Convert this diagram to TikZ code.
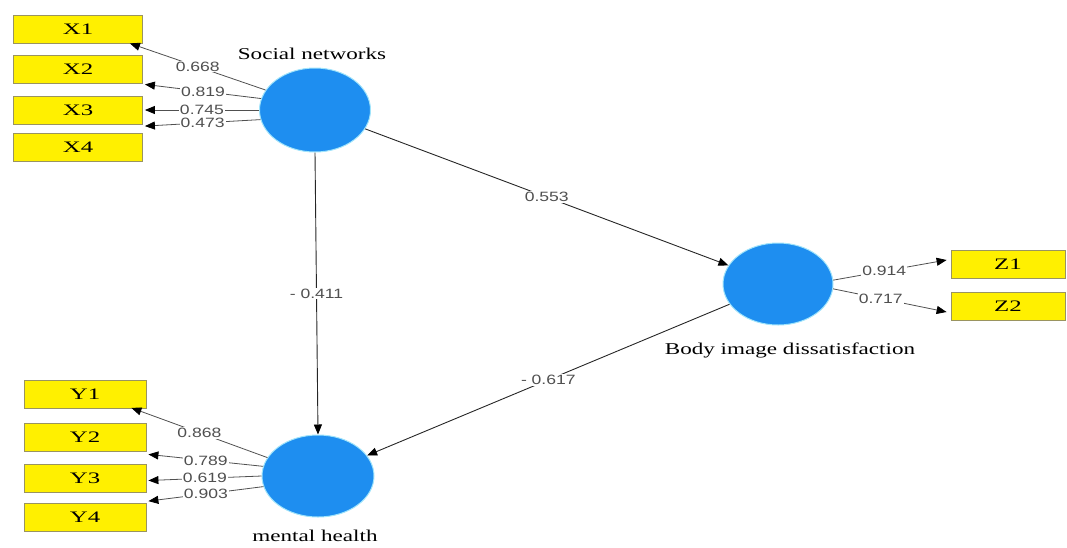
\documentclass[tikz,border=0pt]{standalone}
\usepackage{fontspec}
\usepackage{graphicx}
\setmainfont{Liberation Serif}
\newfontfamily\numfont{Liberation Sans}
\usetikzlibrary{shapes.geometric,arrows.meta}
\definecolor{boxyellow}{HTML}{FFF000}
\definecolor{boxedge}{HTML}{9A9460}
\definecolor{latblue}{HTML}{1E8EF0}
\definecolor{numgray}{HTML}{505050}
\newcommand{\wideA}[1]{\scalebox{1.4}[1]{#1}}
\newcommand{\wideC}[1]{\scalebox{1.55}[1]{#1}}
\newcommand{\wideB}[1]{\scalebox{1.3}[1]{#1}}
\begin{document}
\begin{tikzpicture}[x=1pt,y=-1pt,
  indbox/.style={draw=boxedge,line width=0.8pt,fill=boxyellow,minimum height=28pt,inner sep=0pt,font=\fontsize{16}{18}\selectfont},
  latent/.style={ellipse,fill=latblue,draw=latblue!60!cyan!40,line width=1pt,inner sep=0pt},
  lat label/.style={font=\fontsize{16.5}{19}\selectfont},
  loadarrow/.style={draw=numgray,line width=0.8pt,-{Triangle[length=10pt,width=8pt,color=black]}},
  patharrow/.style={draw=black!85,line width=0.9pt,-{Triangle[length=10pt,width=8pt,color=black]}},
  num/.style={fill=white,inner sep=1pt,text=numgray,font=\numfont\fontsize{13.5}{15}\selectfont}
]
\path[use as bounding box] (0,0) rectangle (1067,547);

% indicator boxes
\node[indbox,minimum width=129pt] (x1) at (78,29) {\wideC{X1}};
\node[indbox,minimum width=129pt] (x2) at (78,69) {\wideC{X2}};
\node[indbox,minimum width=129pt] (x3) at (78,110) {\wideC{X3}};
\node[indbox,minimum width=129pt] (x4) at (78,147.5) {\wideC{X4}};
\node[indbox,minimum width=122pt] (y1) at (85,394.5) {\wideC{Y1}};
\node[indbox,minimum width=122pt] (y2) at (85,437) {\wideC{Y2}};
\node[indbox,minimum width=122pt] (y3) at (85,478.5) {\wideC{Y3}};
\node[indbox,minimum width=122pt] (y4) at (85,517.5) {\wideC{Y4}};
\node[indbox,minimum width=114pt] (z1) at (1008,264) {\wideC{Z1}};
\node[indbox,minimum width=114pt] (z2) at (1008,306) {\wideC{Z2}};

% latent variables
\node[latent,minimum width=111pt,minimum height=84pt] (sn) at (315,110) {};
\node[latent,minimum width=112pt,minimum height=82pt] (mh) at (318,476) {};
\node[latent,minimum width=110pt,minimum height=82pt] (bid) at (778,284) {};

\node[lat label] (snl) at (312,54) {\wideA{Social networks}};
\node[lat label] (mhl) at (315,536) {\wideA{mental health}};
\node[lat label] (bidl) at (790,350) {\wideA{Body image dissatisfaction}};

% loadings social networks
\draw[loadarrow] (sn.158) -- node[num,pos=0.5]{\wideB{0.668}} ([xshift=-13pt]x1.south east);
\draw[loadarrow] (sn.168) -- node[num,pos=0.5]{\wideB{0.819}} ([xshift=2pt,yshift=-1pt]x2.south east);
\draw[loadarrow] (sn.180) -- node[num,pos=0.5]{\wideB{0.745}} ([xshift=2pt]x3.east);
\draw[loadarrow] (sn.190) -- node[num,pos=0.5]{\wideB{0.473}} ([xshift=2pt,yshift=7pt]x4.north east);

% loadings mental health
\draw[loadarrow] (mh.160) -- node[num,pos=0.5]{\wideB{0.868}} ([xshift=-15pt,yshift=1pt]y1.south east);
\draw[loadarrow] (mh.170) -- node[num,pos=0.5]{\wideB{0.789}} ([xshift=2pt,yshift=-3pt]y2.south east);
\draw[loadarrow] (mh.180) -- node[num,pos=0.5]{\wideB{0.619}} ([xshift=2pt,yshift=-2pt]y3.east);
\draw[loadarrow] (mh.191) -- node[num,pos=0.5]{\wideB{0.903}} ([xshift=2pt,yshift=2pt]y4.north east);

% loadings body image
\draw[loadarrow] (bid.4) -- node[num,pos=0.45]{\wideB{0.914}} ([xshift=-4pt,yshift=4pt]z1.west);
\draw[loadarrow] (bid.355) -- node[num,pos=0.42]{\wideB{0.717}} ([xshift=-4pt,yshift=-6pt]z2.west);

% structural paths
\draw[patharrow] (sn) -- node[num,pos=0.5]{\wideB{0.553}} (bid);
\draw[patharrow] (sn.south) -- node[num,pos=0.5]{\wideB{- 0.411}} (mh.north);
\draw[patharrow] (bid) -- node[num,pos=0.5]{\wideB{- 0.617}} (mh);
\end{tikzpicture}
\end{document}
